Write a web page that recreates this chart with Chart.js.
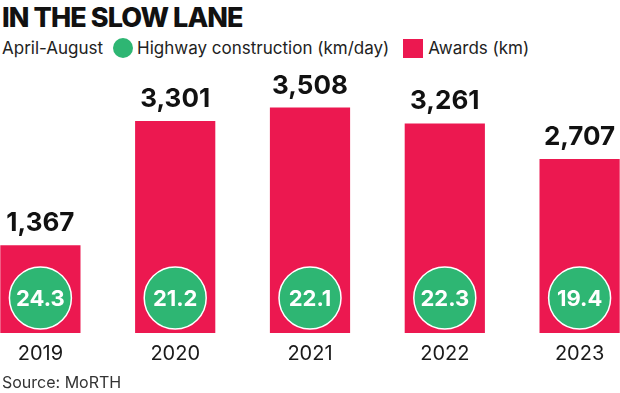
<!DOCTYPE html>
<html>
<head>
<meta charset="utf-8">
<script src="https://cdn.jsdelivr.net/npm/chart.js@4.4.0/dist/chart.umd.min.js"></script>
<style>
  html, body { margin: 0; padding: 0; background: #fff; }
  body { width: 620px; height: 393px; position: relative; overflow: hidden; font-family: "Inter", "DejaVu Sans", sans-serif; color: #1a1a1a; }
  #title { position: absolute; left: 2px; top: 1px; font-size: 27px; font-weight: 800; letter-spacing: -0.9px; color: #111; }
  #legend { position: absolute; left: 2px; top: 37px; font-size: 17px; color: #222; white-space: nowrap; }
  #legend span { display: inline-block; vertical-align: middle; }
  .dot { width: 20px; height: 20px; border-radius: 50%; background: #2eb673; margin: 0 4px 0 10px; }
  .sq { width: 20px; height: 19px; background: #ec1850; margin: 0 5px 0 14px; }
  #wrap { position: absolute; left: -27px; top: 0; }
  #source { position: absolute; left: 2px; top: 372px; font-size: 16px; color: #333; }
</style>
</head>
<body>
<div id="title">IN THE SLOW LANE</div>
<div id="legend"><span>April-August</span><span class="dot"></span><span>Highway construction (km/day)</span><span class="sq"></span><span>Awards (km)</span></div>
<div id="wrap"><canvas id="chart" width="674" height="375"></canvas></div>
<div id="source">Source: MoRTH</div>
<script>
// Years (April-August)
const years = ["2019", "2020", "2021", "2022", "2023"];
// Awards (km)
const awards = [1367, 3301, 3508, 3261, 2707];
// Highway construction (km/day)
const construction = [24.3, 21.2, 22.1, 22.3, 19.4];

const barColor = "#ec1850";
const dotColor = "#2eb673";

// Draw value labels above bars and the green circles inside them
const barDecor = {
  id: "barDecor",
  afterDatasetsDraw(chart) {
    const ctx = chart.ctx;
    const meta = chart.getDatasetMeta(0);
    const base = chart.scales.y.getPixelForValue(0);
    ctx.save();
    meta.data.forEach((bar, i) => {
      // value on top
      ctx.fillStyle = "#111";
      ctx.font = "bold 26px Inter, 'DejaVu Sans', sans-serif";
      ctx.textAlign = "center";
      ctx.textBaseline = "alphabetic";
      ctx.fillText(awards[i].toLocaleString("en-US"), bar.x, bar.y - 14);
      // circle
      const cy = base - 35;
      ctx.beginPath();
      ctx.arc(bar.x, cy, 31, 0, Math.PI * 2);
      ctx.fillStyle = dotColor;
      ctx.fill();
      ctx.lineWidth = 1.5;
      ctx.strokeStyle = "#fff";
      ctx.stroke();
      ctx.fillStyle = "#fff";
      ctx.font = "bold 22px Inter, 'DejaVu Sans', sans-serif";
      ctx.textBaseline = "middle";
      ctx.fillText(construction[i].toFixed(1), bar.x, cy + 1);
    });
    ctx.restore();
  }
};

new Chart(document.getElementById("chart"), {
  type: "bar",
  plugins: [barDecor],
  data: {
    labels: years,
    datasets: [{
      data: awards,
      backgroundColor: barColor,
      categoryPercentage: 1,
      barPercentage: 0.595,
    }],
  },
  options: {
    responsive: false,
    animation: false,
    layout: { padding: { top: 76, left: 0, right: 0, bottom: 0 } },
    plugins: {
      legend: { display: false },
      tooltip: { enabled: false },
    },
    scales: {
      x: {
        grid: { display: false, drawTicks: false },
        border: { display: false },
        ticks: {
          color: "#1a1a1a",
          padding: 9,
          font: { size: 20, family: "Inter, 'DejaVu Sans', sans-serif" },
        },
      },
      y: {
        display: false,
        min: 0,
        max: 4000,
      },
    },
  },
});
</script>
</body>
</html>
